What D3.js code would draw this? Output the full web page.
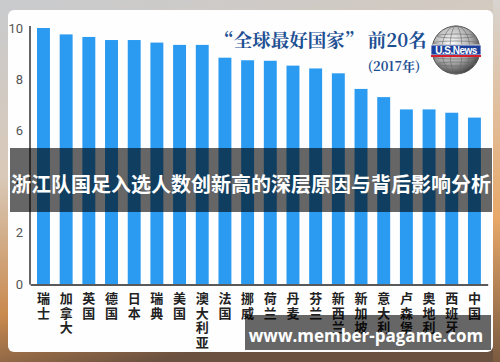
<!DOCTYPE html>
<html><head><meta charset="utf-8">
<script src="https://cdn.jsdelivr.net/npm/d3@7"></script>
<style>html,body{margin:0;padding:0;background:#fff;}svg{display:block;}</style>
</head><body>
<svg id="c" width="500" height="362"></svg>
<script>
const countries = ["瑞士","加拿大","英国","德国","日本","瑞典","美国","澳大利亚","法国","挪威","荷兰","丹麦","芬兰","新西兰","新加坡","意大利","卢森堡","奥地利","西班牙","中国"];
const scores = [10.0, 9.75, 9.65, 9.53, 9.53, 9.43, 9.34, 9.34, 8.84, 8.74, 8.72, 8.53, 8.42, 8.23, 7.62, 7.30, 6.82, 6.82, 6.69, 6.50];
const yTicks = [0, 2, 4, 6, 8, 10];
const titleText = "“全球最好国家” 前20名";
const subtitleText = "(2017年)";
const overlayText = "浙江队国足入选人数创新高的深层原因与背后影响分析";
const footerText = "www.member-pagame.com";

const svg = d3.select("#c");
const defs = svg.append("defs");
const bg = defs.append("linearGradient").attr("id","bg").attr("x1",0).attr("y1",0).attr("x2",0.3).attr("y2",1);
bg.append("stop").attr("offset",0).attr("stop-color","#c9cbce");
bg.append("stop").attr("offset",0.45).attr("stop-color","#d9c9b8");
bg.append("stop").attr("offset",0.8).attr("stop-color","#c98a4e");
bg.append("stop").attr("offset",1).attr("stop-color","#6b5140");
svg.append("rect").attr("width",500).attr("height",362).attr("fill","url(#bg)");
const bg2 = defs.append("linearGradient").attr("id","bg2").attr("x1",0).attr("y1",0).attr("x2",0).attr("y2",1);
bg2.append("stop").attr("offset",0).attr("stop-color","#d8d4d0");
bg2.append("stop").attr("offset",0.6).attr("stop-color","#e8a868");
bg2.append("stop").attr("offset",1).attr("stop-color","#7a5a40");
svg.append("rect").attr("x",493).attr("width",7).attr("height",362).attr("fill","url(#bg2)");

// frame
svg.append("rect").attr("x",8).attr("y",10).attr("width",485).attr("height",342).attr("rx",6).attr("fill","#fefefe");

const x = d3.scaleBand().domain(countries).range([30.2, 487.7]).paddingInner(0.43).paddingOuter(0.3);
const y = d3.scaleLinear().domain([0,10]).range([284,28]);

svg.append("g").selectAll("rect").data(countries).join("rect")
  .attr("x", d => x(d)).attr("width", x.bandwidth())
  .attr("y", (d,i) => y(scores[i])).attr("height", (d,i) => y(0) - y(scores[i]))
  .attr("fill", "#2a9bf0");

// y axis
const yAxis = d3.axisLeft(y).tickValues(yTicks).tickSize(0).tickPadding(7).tickFormat(d3.format("d"));
const gy = svg.append("g").attr("transform","translate(30,0)").call(yAxis);
gy.select(".domain").attr("stroke","#333").attr("stroke-width",1.5).attr("d","M0,26V284.5");
gy.selectAll("text").attr("fill","#555").attr("font-size",13).attr("font-family","Roboto, 'Noto Sans', sans-serif");

// x axis
const xAxis = d3.axisBottom(x).tickSize(0).tickFormat("");
const gx = svg.append("g").attr("transform","translate(0,284.5)").call(xAxis);
gx.select(".domain").attr("stroke","#222").attr("stroke-width",1.5);

// vertical labels
const lbl = svg.append("g");
countries.forEach(c => {
  const cx = x(c) + x.bandwidth()/2;
  const t = lbl.append("text").attr("text-anchor","middle")
    .attr("font-family","'Noto Sans CJK SC', sans-serif").attr("font-size",13).attr("font-weight",700).attr("fill","#222");
  Array.from(c).forEach((ch,j) => {
    t.append("tspan").attr("x",cx).attr("y",303 + j*14.5).text(ch);
  });
});

// title
svg.append("text").attr("x",321).attr("y",47).attr("text-anchor","middle")
  .attr("font-family","'Noto Serif CJK SC','Noto Sans CJK SC', serif").attr("font-weight",700).attr("font-size",18.5)
  .attr("fill","#1d4f93").text(titleText);
svg.append("text").attr("x",394).attr("y",71).attr("text-anchor","middle")
  .attr("font-family","'Noto Serif CJK SC','Noto Sans CJK SC', serif").attr("font-weight",700).attr("font-size",13)
  .attr("fill","#1d4f93").text(subtitleText);

// logo
const gl = defs.append("radialGradient").attr("id","globe").attr("cx",0.4).attr("cy",0.35).attr("r",0.7);
gl.append("stop").attr("offset",0).attr("stop-color","#ffffff");
gl.append("stop").attr("offset",0.6).attr("stop-color","#a8a8a8");
gl.append("stop").attr("offset",1).attr("stop-color","#3a3a3a");
const logo = svg.append("g").attr("transform","translate(456,50)");
logo.append("circle").attr("r",24).attr("fill","url(#globe)").attr("stroke","#555").attr("stroke-width",1);
[-14,-7,7,14].forEach(dy => logo.append("ellipse").attr("cx",0).attr("cy",dy).attr("rx",Math.sqrt(24*24-dy*dy)).attr("ry",2).attr("fill","none").attr("stroke","#666").attr("stroke-width",0.6));
[6,14].forEach(rx => logo.append("ellipse").attr("rx",rx).attr("ry",24).attr("fill","none").attr("stroke","#666").attr("stroke-width",0.6));
logo.append("rect").attr("x",-25).attr("y",-5).attr("width",50).attr("height",10).attr("fill","#1b3f9a").attr("stroke","#fff").attr("stroke-width",0.8);
logo.append("rect").attr("x",-25).attr("y",5).attr("width",50).attr("height",2).attr("fill","#d4202a");
logo.append("text").attr("x",0).attr("y",3.5).attr("text-anchor","middle").attr("font-family","'Liberation Sans Narrow','Liberation Sans',sans-serif")
  .attr("font-weight",700).attr("font-size",10).attr("fill","#fff").attr("letter-spacing",-0.5).text("U.S.News");

// overlay band
svg.append("rect").attr("x",10).attr("y",148).attr("width",482).attr("height",64).attr("fill","#000").attr("opacity",0.6);
svg.append("text").attr("x",251).attr("y",192).attr("text-anchor","middle")
  .attr("font-family","'Noto Sans CJK SC', sans-serif").attr("font-weight",700).attr("font-size",20)
  .attr("fill","#fff").text(overlayText);

// footer band
svg.append("rect").attr("x",245).attr("y",315).attr("width",246).attr("height",35).attr("fill","#000").attr("opacity",0.6);
svg.append("text").attr("x",366).attr("y",342).attr("text-anchor","middle")
  .attr("font-family","'Open Sans','DejaVu Sans', sans-serif").attr("font-weight",700).attr("font-size",17)
  .attr("fill","#fff").text(footerText);
</script>
</body></html>
